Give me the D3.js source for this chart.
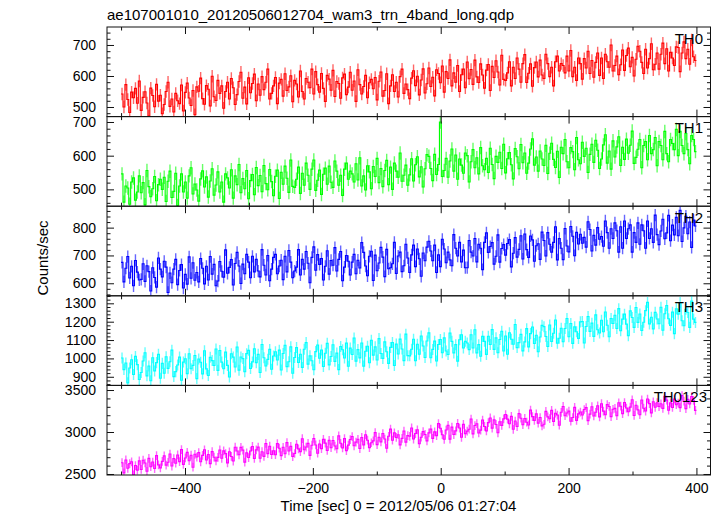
<!DOCTYPE html>
<html><head><meta charset="utf-8">
<script src="https://cdn.jsdelivr.net/npm/d3@7"></script>
<style>body{margin:0;background:#fff;} svg{display:block;} text{font-family:"Liberation Sans",Arial,Helvetica,sans-serif;}</style>
</head><body><svg id="c" width="723" height="516"></svg>
<script>
const title = "ae107001010_20120506012704_wam3_trn_4band_long.qdp";
const xLabel = "Time [sec] 0 = 2012/05/06 01:27:04";
const yLabel = "Counts/sec";
const bandNames = ["TH0", "TH1", "TH2", "TH3", "TH0123"];
const bandColors = ["#ff0000", "#00ff00", "#0000ff", "#00ffff", "#ff00ff"];
const binStart = -500, binWidth = 3;
const xDomain = [-522, 422];
const xMajorTicks = [-400, -200, 0, 200, 400];
const xMinorTicks = [-500, -300, -100, 100, 300];
const yDomains = [[469, 758], [450, 716], [555, 877], [853, 1341], [2488, 3555]];
const yTicks = [[500, 600, 700], [500, 600, 700], [600, 700, 800], [900, 1000, 1100, 1200, 1300], [2500, 3000, 3500]];
const yMinorStep = [20, 20, 20, 20, 100];
const errBars = [20, 20, 22, 30, 52];

const th0 = [
542,500,572,524,482,548,530,560,512,584,
489,531,549,513,471,561,537,501,573,519,
538,478,508,550,580,502,526,484,544,520,
511,571,487,547,577,529,505,553,475,565,
551,593,527,509,569,557,503,599,533,521,
586,544,568,496,550,580,526,592,562,508,
540,582,612,528,564,510,594,546,576,606,
520,574,538,598,556,580,622,526,544,568,
595,511,577,589,535,607,553,565,601,517,
586,574,532,616,550,526,592,580,562,622,
542,614,572,548,608,560,518,602,590,554,
618,534,582,576,528,594,606,540,564,612,
554,584,518,620,572,542,566,602,530,578,
589,559,595,523,583,613,535,553,607,511,
568,604,550,580,532,598,622,544,574,556,
527,593,617,569,599,539,587,623,545,575,
626,566,596,536,620,608,578,632,548,614,
592,652,568,610,580,634,550,604,622,562,
645,591,621,573,651,597,579,639,603,561,
619,637,553,631,595,649,613,571,667,589,
586,610,646,568,628,592,658,622,580,640,
669,579,609,639,567,627,645,597,651,603,
592,670,640,598,628,568,646,664,616,640,
634,610,664,616,682,598,628,586,658,640,
590,656,626,680,608,650,596,644,674,602,
658,592,670,646,628,700,616,634,664,604,
636,684,618,666,690,630,660,600,654,696,
680,644,608,686,626,656,704,620,638,674,
622,670,706,640,688,616,676,658,634,694,
692,614,674,710,656,686,638,716,662,650];

const th1 = [
546,462,510,504,456,522,534,468,492,540,
490,520,454,556,508,478,502,538,466,514,
530,500,536,464,524,554,476,494,548,452,
510,546,492,522,474,540,564,486,516,498,
465,531,555,507,537,477,525,561,483,513,
552,492,522,462,546,534,504,558,474,540,
514,574,490,532,502,556,472,526,544,484,
565,511,541,493,571,517,499,559,523,481,
539,557,473,551,515,569,533,491,587,509,
506,530,566,488,548,512,578,542,500,560,
587,497,527,557,485,545,563,515,569,521,
506,584,554,512,542,482,560,578,530,554,
546,522,576,528,594,510,540,498,570,552,
502,568,538,592,520,562,508,556,586,514,
566,500,578,554,536,608,524,542,572,512,
543,591,525,573,597,537,567,507,561,603,
598,562,526,604,544,574,700,538,556,592,
536,584,620,554,602,530,590,572,548,608,
600,522,582,618,564,594,546,624,570,558,
592,550,622,574,532,598,580,610,562,634,
549,591,609,573,531,621,597,561,633,579,
608,548,578,620,650,572,596,554,614,590,
571,631,547,607,637,589,565,613,535,625,
606,648,582,564,624,612,558,654,588,576,
640,598,622,550,604,634,580,646,616,562,
590,632,662,578,614,560,644,596,626,656,
571,625,589,649,607,631,673,577,595,619,
648,564,630,642,588,660,606,618,654,570,
642,630,588,672,606,582,648,636,618,678,
600,672,630,606,666,618,576,660,648,612];

const th2 = [
675,605,654,696,619,661,591,682,640,612,
614,670,607,663,642,572,656,621,586,691,
651,623,679,658,567,637,602,651,686,595,
646,667,583,632,597,695,618,674,611,639,
605,689,654,598,661,612,696,633,668,591,
608,678,643,622,720,636,657,685,594,671,
711,662,599,669,634,704,676,620,697,641,
686,644,623,721,665,630,700,609,651,693,
704,634,662,683,613,697,641,718,676,620,
644,658,721,630,686,651,714,672,602,693,
731,647,703,668,689,612,661,717,633,682,
665,728,644,686,714,609,658,700,679,630,
676,704,634,683,655,746,711,662,627,697,
715,610,701,645,673,729,694,624,722,652,
656,670,747,635,698,712,642,663,740,691,
639,702,737,660,723,688,625,709,681,730,
751,716,681,737,639,702,660,758,723,674,
712,684,663,775,726,698,747,677,719,656,
656,754,712,698,761,677,740,726,649,747,
781,711,732,746,669,697,774,676,725,739,
701,743,757,659,708,764,694,722,771,687,
777,721,693,770,756,679,735,742,686,784,
754,698,782,740,712,747,803,684,761,726,
685,797,734,713,804,769,699,783,741,776,
744,765,730,821,793,716,772,737,800,758,
768,733,824,782,726,796,761,817,789,712,
803,726,824,761,796,810,712,782,747,817,
740,810,789,726,824,761,796,747,845,775,
739,788,830,760,781,844,753,809,774,837,
771,862,750,799,841,778,820,729,827,806];

const th3 = [
1002,939,975,867,948,993,912,1011,966,885,
923,986,1031,905,959,878,1004,932,977,1022,
892,973,919,1009,946,982,1045,901,928,964,
1007,881,980,998,917,1025,944,962,1016,890,
997,979,916,1042,943,907,1006,988,961,1051,
935,1043,980,944,1034,962,899,1025,1007,953,
1062,936,1008,999,927,1026,1044,945,981,1053,
977,1022,923,1076,1004,959,995,1049,941,1013,
1036,991,1045,937,1027,1072,955,982,1063,919,
1005,1059,978,1023,951,1050,1086,969,1014,987,
938,1037,1073,1001,1046,956,1028,1082,965,1010,
1074,984,1029,939,1065,1047,1002,1083,957,1056,
1021,1111,985,1048,1003,1084,958,1039,1066,976,
1099,1018,1063,991,1108,1027,1000,1090,1036,973,
1060,1087,961,1078,1024,1105,1051,988,1132,1015,
1014,1050,1104,987,1077,1023,1122,1068,1005,1095,
1139,1004,1049,1094,986,1076,1103,1031,1112,1040,
1021,1138,1093,1030,1075,985,1102,1129,1057,1093,
1084,1048,1129,1057,1156,1030,1075,1012,1120,1093,
1022,1121,1076,1157,1049,1112,1031,1103,1148,1040,
1122,1023,1140,1104,1077,1185,1059,1086,1131,1041,
1090,1162,1063,1135,1171,1081,1126,1036,1117,1180,
1173,1119,1065,1182,1092,1137,1209,1083,1110,1164,
1091,1163,1217,1118,1190,1082,1172,1145,1109,1199,
1201,1084,1174,1228,1147,1192,1120,1237,1156,1138,
1208,1145,1253,1181,1118,1217,1190,1235,1163,1271,
1151,1214,1241,1187,1124,1259,1223,1169,1277,1196,
1242,1152,1197,1260,1305,1188,1224,1161,1251,1215,
1189,1279,1153,1243,1288,1216,1180,1252,1135,1270,
1241,1304,1205,1178,1268,1250,1169,1313,1214,1196];

const th0123 = [
2634,2513,2667,2568,2623,2645,2491,2601,2546,2656,
2554,2664,2631,2532,2686,2587,2642,2565,2719,2609,
2573,2650,2716,2606,2639,2738,2595,2683,2628,2727,
2647,2790,2614,2691,2757,2658,2724,2581,2735,2702,
2755,2645,2722,2788,2667,2733,2623,2766,2700,2656,
2698,2786,2687,2775,2742,2632,2764,2709,2654,2819,
2773,2729,2817,2784,2641,2751,2696,2773,2828,2685,
2787,2820,2688,2765,2710,2864,2743,2831,2732,2776,
2730,2862,2807,2719,2818,2741,2873,2774,2829,2708,
2744,2854,2799,2766,2920,2788,2821,2865,2722,2843,
2923,2846,2747,2857,2802,2912,2868,2780,2901,2813,
2899,2833,2800,2954,2866,2811,2921,2778,2844,2910,
2946,2836,2880,2913,2803,2935,2847,2968,2902,2814,
2872,2894,2993,2850,2938,2883,2982,2916,2806,2949,
3034,2902,2990,2935,2968,2847,2924,3012,2880,2957,
2949,3048,2916,2982,3026,2861,2938,3004,2971,2894,
2990,3034,2924,3001,2957,3100,3045,2968,2913,3023,
3080,2915,3058,2970,3014,3102,3047,2937,3091,2981,
3011,3033,3154,2978,3077,3099,2989,3022,3143,3066,
3013,3112,3167,3046,3145,3090,2991,3123,3079,3156,
3208,3153,3098,3186,3032,3131,3065,3219,3164,3087,
3161,3117,3084,3260,3183,3139,3216,3106,3172,3073,
3092,3246,3180,3158,3257,3125,3224,3202,3081,3235,
3304,3194,3227,3249,3128,3172,3293,3139,3216,3238,
3202,3268,3290,3136,3213,3301,3191,3235,3312,3180,
3337,3249,3205,3326,3304,3183,3271,3282,3194,3348,
3307,3219,3351,3285,3241,3296,3384,3197,3318,3263,
3206,3382,3283,3250,3393,3338,3228,3360,3294,3349,
3303,3336,3281,3424,3380,3259,3347,3292,3391,3325,
3345,3290,3433,3367,3279,3389,3334,3422,3378,3257];

const series = [th0, th1, th2, th3, th0123];

const svg = d3.select("#c");
const FONT = '"Liberation Sans",Arial,Helvetica,sans-serif';
const plotLeft = 107, plotRight = 710.5, plotTop = 27, plotBottom = 475;
const nP = series.length, ph = (plotBottom - plotTop) / nP;
const x = d3.scaleLinear().domain(xDomain).range([plotLeft, plotRight]);

svg.append("text").attr("x", 107).attr("y", 20).attr("font-size", 15).attr("fill", "#000").text(title);

function styleAxis(g) {
  g.select(".domain").remove();
  g.attr("font-family", FONT).attr("font-size", 14).attr("color", "#111");
  g.selectAll("text").attr("fill", "#000");
  g.selectAll("line").attr("stroke-width", 1);
}

series.forEach((vals, p) => {
  const top = plotTop + p * ph, bot = top + ph;
  const y = d3.scaleLinear().domain(yDomains[p]).range([bot, top]);
  const clipId = "clip" + p;
  svg.append("clipPath").attr("id", clipId).append("rect")
    .attr("x", plotLeft).attr("y", top).attr("width", plotRight - plotLeft).attr("height", ph);
  const dg = svg.append("g").attr("clip-path", `url(#${clipId})`);
  const pts = vals.map((v, i) => ({ t: binStart + i * binWidth, v }));
  dg.selectAll("line").data(pts).join("line")
    .attr("x1", d => x(d.t + binWidth / 2)).attr("x2", d => x(d.t + binWidth / 2))
    .attr("y1", d => y(d.v - errBars[p])).attr("y2", d => y(d.v + errBars[p]))
    .attr("stroke", bandColors[p]).attr("stroke-opacity", 0.6).attr("stroke-width", 1.4);
  const last = pts[pts.length - 1];
  const stepPts = pts.concat([{ t: last.t + binWidth, v: last.v }]);
  dg.append("path").datum(stepPts)
    .attr("d", d3.line().x(d => x(d.t)).y(d => y(d.v)).curve(d3.curveStepAfter))
    .attr("fill", "none").attr("stroke", bandColors[p]).attr("stroke-width", 1.1);

  const [d0, d1] = yDomains[p], st = yMinorStep[p];
  const minor = d3.range(Math.ceil(d0 / st) * st, d1, st).filter(v => !yTicks[p].includes(v));
  svg.append("g").attr("transform", `translate(${plotLeft},0)`)
    .call(d3.axisLeft(y).tickValues(minor).tickSize(-3.5).tickFormat("")).call(styleAxis);
  svg.append("g").attr("transform", `translate(${plotRight},0)`)
    .call(d3.axisRight(y).tickValues(minor).tickSize(-3.5).tickFormat("")).call(styleAxis);
  svg.append("g").attr("transform", `translate(${plotLeft},0)`)
    .call(d3.axisLeft(y).tickValues(yTicks[p]).tickSize(-7).tickPadding(11).tickFormat(d3.format("d"))).call(styleAxis);
  svg.append("g").attr("transform", `translate(${plotRight},0)`)
    .call(d3.axisRight(y).tickValues(yTicks[p]).tickSize(-7).tickFormat("")).call(styleAxis);
  svg.append("g").attr("transform", `translate(0,${top})`)
    .call(d3.axisTop(x).tickValues(xMajorTicks).tickSize(-7).tickFormat("")).call(styleAxis);
  svg.append("g").attr("transform", `translate(0,${top})`)
    .call(d3.axisTop(x).tickValues(xMinorTicks).tickSize(-3.5).tickFormat("")).call(styleAxis);
  const bAxis = d3.axisBottom(x).tickValues(xMajorTicks).tickSize(-7).tickPadding(8)
    .tickFormat(p === nP - 1 ? d3.format("d") : "");
  svg.append("g").attr("transform", `translate(0,${bot})`).call(bAxis).call(styleAxis);
  svg.append("g").attr("transform", `translate(0,${bot})`)
    .call(d3.axisBottom(x).tickValues(xMinorTicks).tickSize(-3.5).tickFormat("")).call(styleAxis);

  svg.append("rect").attr("x", plotLeft).attr("y", top).attr("width", plotRight - plotLeft).attr("height", ph)
    .attr("fill", "none").attr("stroke", "#111").attr("stroke-width", 1);

  svg.append("text").attr("x", p === nP - 1 ? 707 : 703).attr("y", top + 16.5)
    .attr("text-anchor", "end").attr("font-size", 15).attr("fill", "#000").text(bandNames[p]);
});

svg.append("text").attr("x", 398.5).attr("y", 511).attr("text-anchor", "middle")
  .attr("font-size", 15).attr("fill", "#000").text(xLabel);
svg.append("text").attr("transform", "translate(48,258) rotate(-90)").attr("text-anchor", "middle")
  .attr("font-size", 15).attr("fill", "#000").text(yLabel);
</script></body></html>
